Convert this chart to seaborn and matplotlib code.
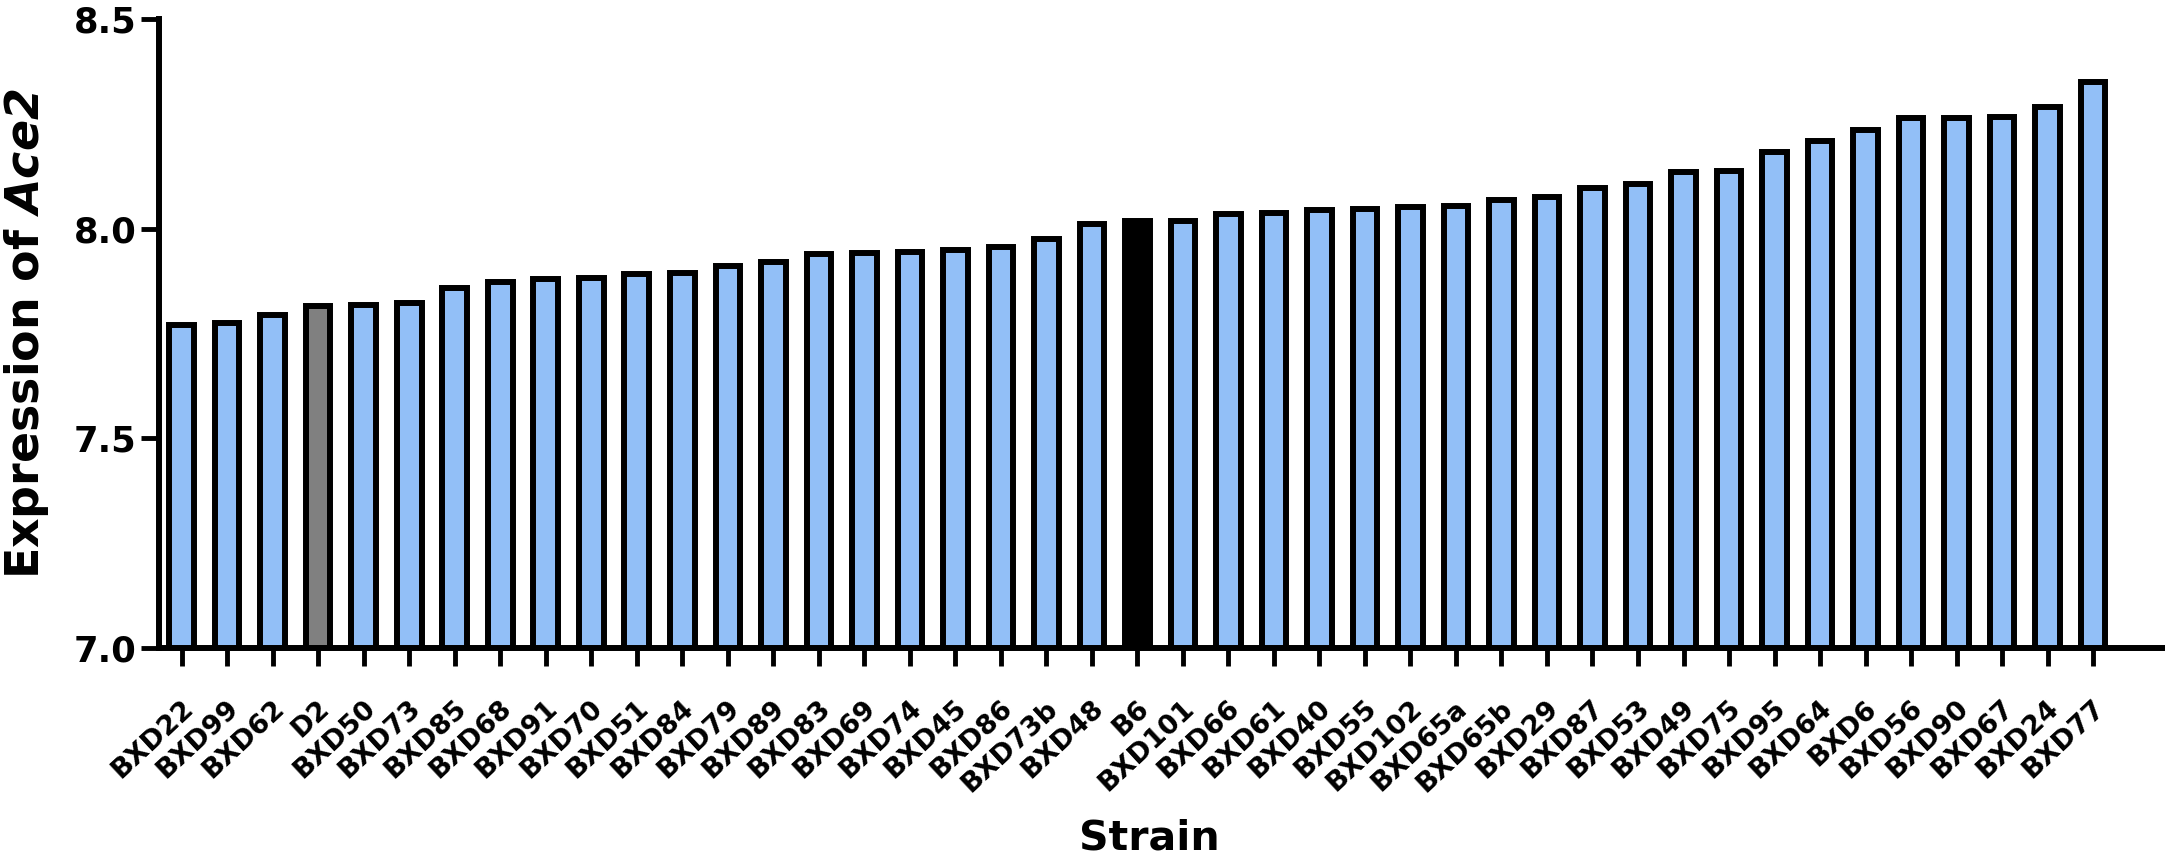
import matplotlib
matplotlib.use("Agg")
import matplotlib.pyplot as plt
import matplotlib.transforms as mtransforms
import seaborn as sns

# Данные: экспрессия Ace2 по линиям мышей BXD
strains = ["BXD22", "BXD99", "BXD62", "D2", "BXD50", "BXD73", "BXD85", "BXD68",
           "BXD91", "BXD70", "BXD51", "BXD84", "BXD79", "BXD89", "BXD83", "BXD69",
           "BXD74", "BXD45", "BXD86", "BXD73b", "BXD48", "B6", "BXD101", "BXD66",
           "BXD61", "BXD40", "BXD55", "BXD102", "BXD65a", "BXD65b", "BXD29", "BXD87",
           "BXD53", "BXD49", "BXD75", "BXD95", "BXD64", "BXD6", "BXD56", "BXD90",
           "BXD67", "BXD24", "BXD77"]
expression = [7.771, 7.774, 7.794, 7.816, 7.818, 7.823, 7.859, 7.873,
              7.879, 7.881, 7.892, 7.893, 7.910, 7.921, 7.939, 7.941,
              7.943, 7.950, 7.955, 7.975, 8.010, 8.019, 8.019, 8.035,
              8.037, 8.044, 8.047, 8.051, 8.054, 8.067, 8.075, 8.097,
              8.106, 8.135, 8.138, 8.183, 8.209, 8.235, 8.263, 8.263,
              8.265, 8.289, 8.350]
parents = {"D2": "#808080", "B6": "#000000"}
bar_color = "#92BFF7"
y_ticks = [7.0, 7.5, 8.0, 8.5]

palette = [parents.get(s, bar_color) for s in strains]

sns.set_theme(style="ticks")
plt.rcParams["font.family"] = ["DejaVu Sans"]
plt.rcParams["font.weight"] = "bold"
plt.rcParams["mathtext.fontset"] = "dejavusans"
for key in ["text.color", "axes.labelcolor", "xtick.color", "ytick.color", "axes.edgecolor"]:
    plt.rcParams[key] = "black"

fig = plt.figure(figsize=(21.65, 8.56), dpi=100)
ax = fig.add_axes([0.0734, 0.243, 0.9266, 0.735])

sns.barplot(x=strains, y=expression, hue=strains, palette=palette, legend=False,
            saturation=1, width=0.54, edgecolor="black", linewidth=4.3, ax=ax)

ax.set_ylim(7.0, 8.5)
ax.set_xlim(-0.5, 43.58)
ax.set_yticks(y_ticks)
ax.set_yticklabels([f"{t:.1f}" for t in y_ticks], fontsize=25.5, fontweight="bold")

sns.despine(ax=ax)
for side in ["left", "bottom"]:
    ax.spines[side].set_linewidth(4.3)
ax.tick_params(axis="both", direction="out", length=13, width=3.5, color="black")
ax.tick_params(axis="y", pad=3)
ax.tick_params(axis="x", pad=28)

# подписи по оси X: наклон ~43°, чуть правее тика
shift = mtransforms.ScaledTranslation(8 / 100, 0, fig.dpi_scale_trans)
for lbl in ax.get_xticklabels():
    lbl.set_rotation(43)
    lbl.set_rotation_mode("anchor")
    lbl.set_ha("right")
    lbl.set_va("center")
    lbl.set_fontsize(19.5)
    lbl.set_fontweight("bold")
    lbl.set_transform(lbl.get_transform() + shift)

ax.set_xlabel("Strain", fontsize=29.5, fontweight="bold")
ax.xaxis.set_label_coords(0.4935, -0.3196)
ax.xaxis.label.set_va("baseline")

ax.set_ylabel(r"Expression of $\mathbfit{Ace2}$", fontsize=33, fontweight="bold")
ax.yaxis.set_label_coords(-0.054, 0.5)

fig.savefig("out.png", dpi=100)
